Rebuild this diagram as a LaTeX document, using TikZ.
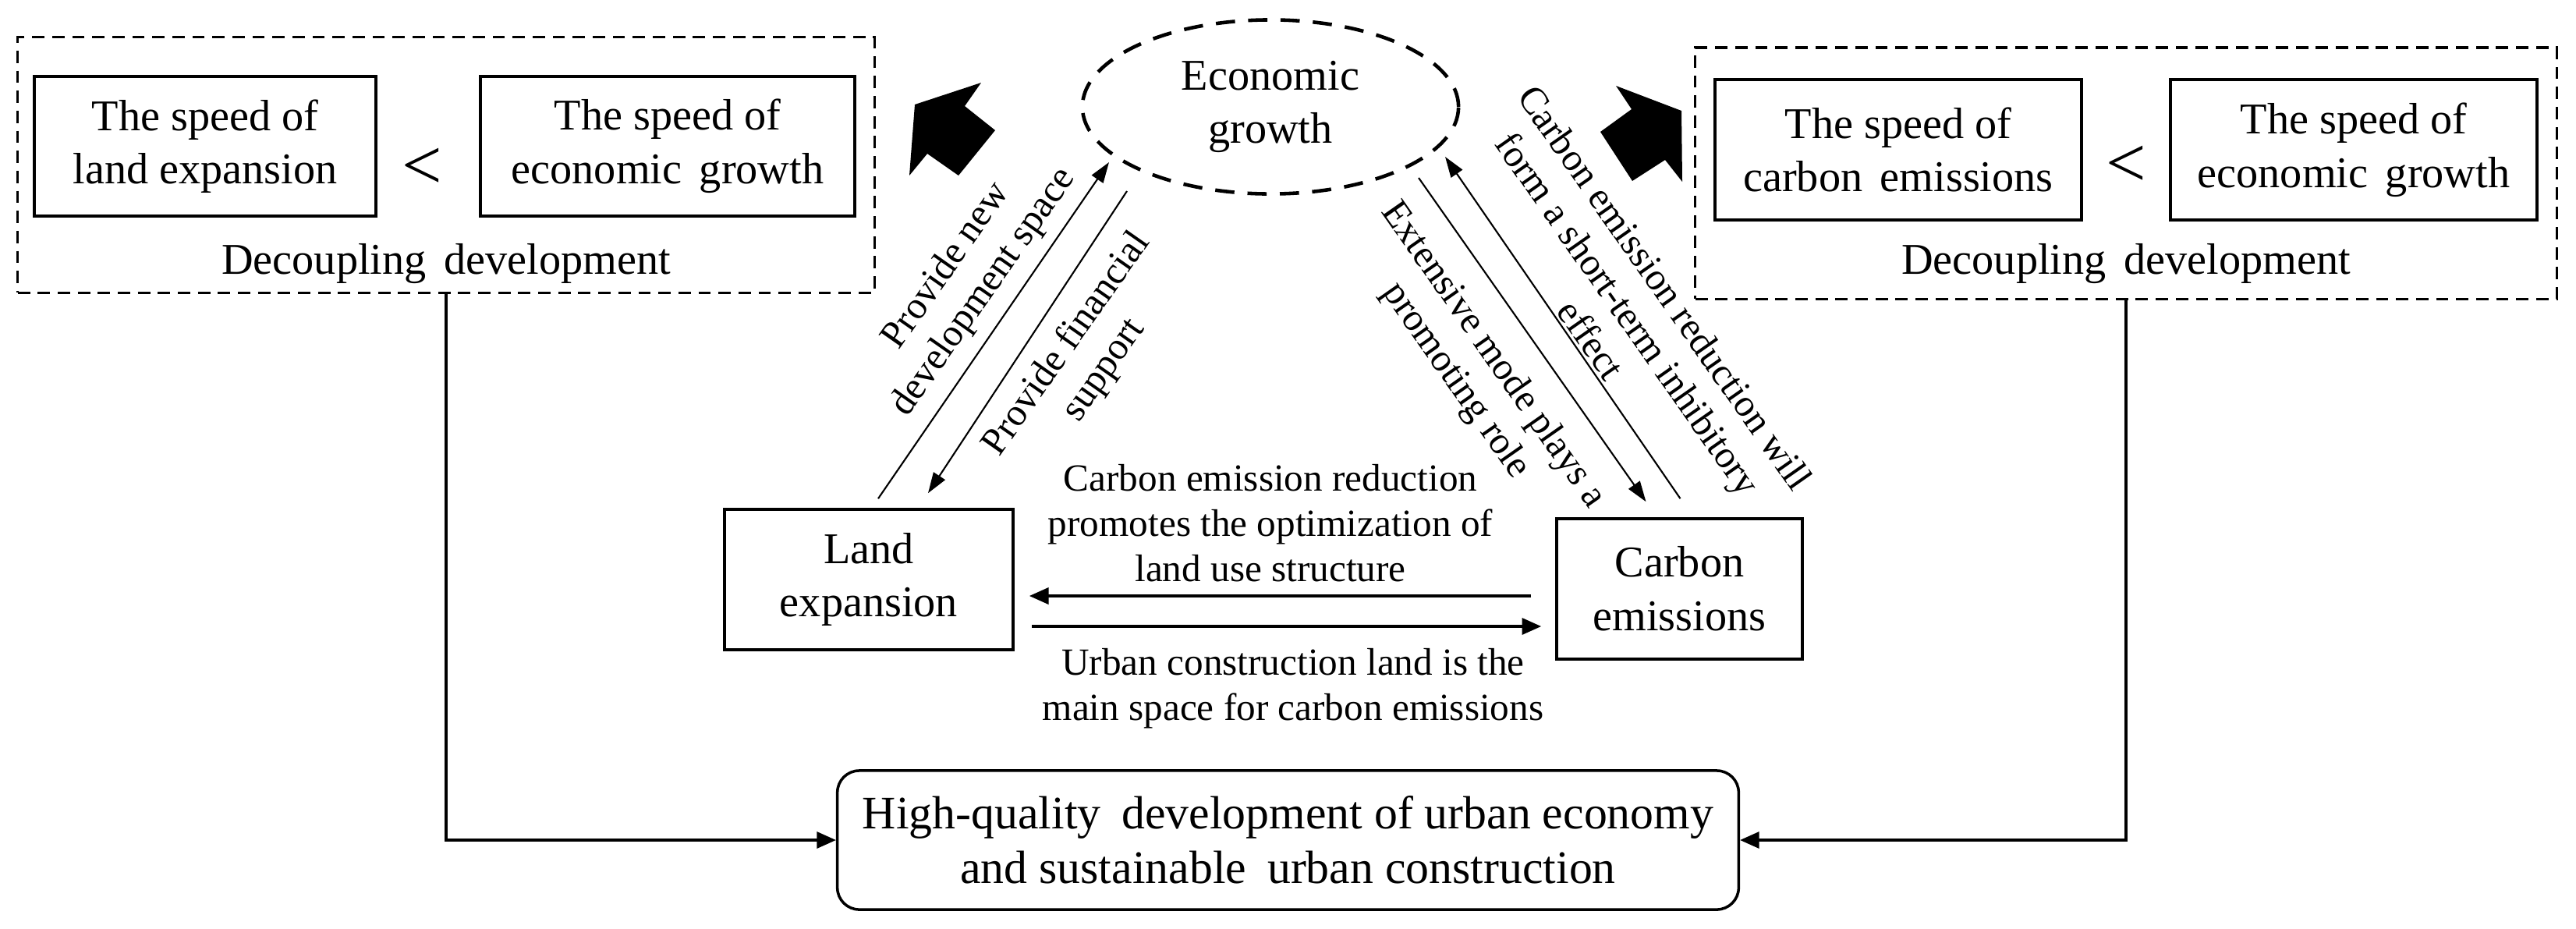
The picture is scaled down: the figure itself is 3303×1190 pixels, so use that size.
\documentclass[tikz,border=0pt]{standalone}
\usepackage{fontspec}
\setmainfont{Liberation Serif}
\usetikzlibrary{arrows.meta,calc,shapes.geometric}
\begin{document}
\begin{tikzpicture}[x=0.01cm,y=-0.01cm,
  box/.style={draw,line width=1pt,inner sep=0pt,align=center,font=\fontsize{16}{19.5}\selectfont},
  dbox/.style={draw,line width=0.9pt,dash pattern=on 4.5pt off 2.8pt,inner sep=0pt},
  plain/.style={inner sep=0pt,align=center,font=\fontsize{16}{19.5}\selectfont},
  lbl/.style={align=center,inner sep=0pt,font=\fontsize{14}{16.5}\selectfont},
  thinarrow/.style={line width=0.6pt,-{Triangle[length=7.5pt,width=5pt]}},
  thickarrow/.style={line width=0.9pt,-{Triangle[length=7pt,width=6pt]}},
  conn/.style={line width=0.9pt,-{Triangle[length=7pt,width=6pt]}},
  lessthan/.style={font=\fontsize{26}{26}\selectfont,inner sep=0pt}
]
\useasboundingbox (0,0) rectangle (3303,1190);

% left decoupling group
\node[dbox,minimum width=10.98cm,minimum height=3.27cm] (dl) at (572,211.5) {};
\node[box,minimum width=4.38cm,minimum height=1.79cm] (b1) at (263,187.5) {The speed of\\land expansion};
\node[box,minimum width=4.80cm,minimum height=1.79cm] (b2) at (856,187.5) {The speed of\\economic\hspace{0.15em} growth};
\node[lessthan] (lt1) at (541,216) {<};
\node[plain] (d1) at (572,338) {Decoupling\hspace{0.15em} development};

% right decoupling group
\node[dbox,minimum width=11.04cm,minimum height=3.22cm] (dr) at (2726,222) {};
\node[box,minimum width=4.70cm,minimum height=1.80cm] (b3) at (2434,192) {The speed of\\carbon\hspace{0.15em} emissions};
\node[box,minimum width=4.70cm,minimum height=1.80cm] (b4) at (3018,192) {The speed of\\economic\hspace{0.15em} growth};
\node[lessthan] (lt2) at (2726,213) {<};
\node[plain] (d2) at (2726,338) {Decoupling\hspace{0.15em} development};

% economic growth ellipse
\node[ellipse,draw,line width=1.3pt,dash pattern=on 7pt off 4.8pt,inner sep=0pt,
      minimum width=4.82cm,minimum height=2.23cm,align=center,
      font=\fontsize{16}{19.5}\selectfont] (eg) at (1629,137) {Economic\\growth};

% land and carbon
\node[box,minimum width=3.70cm,minimum height=1.80cm] (land) at (1114,743) {Land\\expansion};
\node[box,minimum width=3.15cm,minimum height=1.80cm] (carbon) at (2153.5,755) {Carbon\\emissions};

% goal
\node[draw,line width=1pt,rounded corners=8pt,inner sep=0pt,align=center,
      minimum width=11.55cm,minimum height=1.78cm,
      font=\fontsize{17}{20}\selectfont] (goal) at (1651.5,1077)
      {High-quality\hspace{0.2em} development of urban economy\\and sustainable\hspace{0.2em} urban construction};

% black block arrows
\fill (1173,134) -- (1258,106) -- (1237,136) -- (1276,167) -- (1229,225) -- (1189,197) -- (1166,225) -- cycle;
\fill (2072,110) -- (2156,142) -- (2157,233) -- (2135,205) -- (2093,232) -- (2052,169) -- (2092,140) -- cycle;

% connectors to goal
\draw[conn] (dl.south) |- (goal.west);
\draw[conn] (dr.south) |- (goal.east);

% horizontal arrows
\draw[thickarrow] ($(carbon.west)+(-31,9)$) -- ($(land.east)+(19,21)$);
\draw[thickarrow] ($(land.east)+(22,60)$) -- ($(carbon.west)+(-18,48)$);

% diagonal arrows
\draw[thinarrow] ($(land.north)+(12,-12)$) -- ($(eg.center)+(-207,71)$);
\draw[thinarrow] ($(eg.center)+(-184,108)$) -- ($(land.north)+(76,-19)$);
\draw[thinarrow] ($(eg.center)+(190,91)$) -- ($(carbon.north)+(-43,-20)$);
\draw[thinarrow] ($(carbon.north)+(1,-24)$) -- ($(eg.center)+(224,64)$);

% labels
\node[lbl,rotate=55] (l1) at (1238,358) {Provide new\\development space};
\node[lbl,rotate=55] (l2) at (1392,458) {Provide financial\\support};
\node[lbl,rotate=-55] (l3) at (1890,472) {Extensive mode plays a\\promoting role};
\node[lbl,rotate=-55] (l4) at (2088,402) {Carbon emission reduction will\\form a short-term inhibitory\\effect};
\node[lbl] (l5) at (1629,671) {Carbon emission reduction\\promotes the optimization of\\land use structure};
\node[lbl] (l6) at (1658,883) {Urban construction land is the\\main space for carbon emissions};
\end{tikzpicture}
\end{document}
